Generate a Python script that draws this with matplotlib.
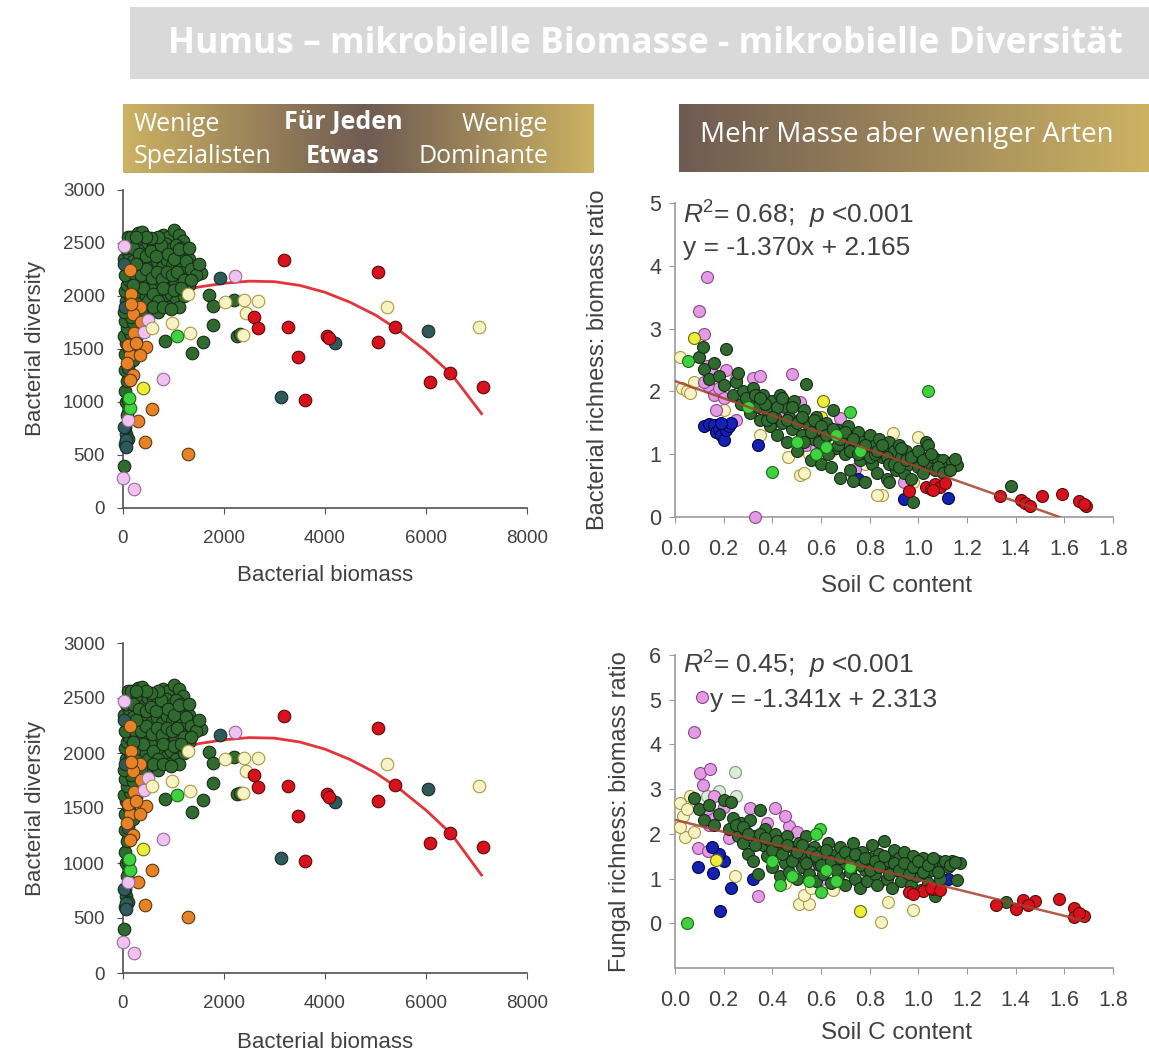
import numpy as np
import matplotlib.pyplot as plt
from matplotlib.patches import Rectangle
from matplotlib.colors import LinearSegmentedColormap

plt.rcParams['font.family'] = 'Liberation Sans'
plt.rcParams['mathtext.fontset'] = 'custom'
plt.rcParams['mathtext.rm'] = 'Liberation Sans'
plt.rcParams['mathtext.it'] = 'Liberation Sans:italic'

# ---------------- data: bacterial biomass vs bacterial diversity (both left panels) ----------------
left_dark_green = [
    (20, 400), (40, 600), (60, 700), (100, 650), (30, 760), (80, 880), (50, 1000), (100, 1020), (30, 1100),
    (70, 1200), (150, 1250), (40, 1300), (90, 1350), (200, 1400), (30, 1450), (110, 1500), (60, 1560),
    (20, 1620), (130, 1650), (80, 1700), (40, 1760), (200, 1750), (150, 1800), (20, 1850), (100, 1900),
    (60, 1950), (140, 2000), (30, 2050), (80, 2100), (120, 2150), (40, 2200), (160, 2250), (70, 2300),
    (20, 2350), (110, 2400), (60, 2450), (150, 2500), (90, 2560), (250, 1600), (300, 1950),
    (150, 2560), (300, 2590), (380, 2600), (650, 2520), (800, 2580), (900, 2560), (1000, 2620),
    (1100, 2580), (1180, 2520), (250, 2480), (400, 2430), (500, 2500), (600, 2470), (700, 2420),
    (850, 2490), (950, 2440), (1050, 2480), (1200, 2400), (1300, 2350), (200, 2330), (350, 2300),
    (480, 2350), (580, 2280), (680, 2330), (780, 2270), (880, 2340), (980, 2290), (1100, 2300),
    (1250, 2250), (1400, 2280), (1550, 2220), (250, 2180), (400, 2150), (520, 2200), (620, 2130),
    (720, 2190), (820, 2120), (920, 2180), (1020, 2140), (1150, 2170), (1300, 2100), (300, 2050),
    (450, 2000), (550, 2070), (650, 1980), (750, 2040), (850, 1960), (950, 2020), (1050, 1950),
    (1200, 2000), (500, 1880), (700, 1850), (1100, 1900),
    (200, 2450), (320, 2400), (450, 2380), (550, 2420), (650, 2380), (750, 2480), (900, 2400), (1000, 2350),
    (1150, 2450), (1250, 2330), (1350, 2250), (1450, 2200), (1500, 2300), (350, 2200), (450, 2250),
    (570, 2170), (670, 2230), (770, 2160), (870, 2230), (970, 2200), (1070, 2230), (1200, 2150), (1350, 2150),
    (1250, 2050), (400, 2080), (500, 1950), (600, 2020), (700, 1950), (800, 2080), (900, 1900), (1000, 2060),
    (1150, 2080), (350, 1850), (600, 1900), (800, 1900), (950, 1880), (200, 2100), (250, 2300), (700, 2560),
    (550, 2550), (450, 2560), (250, 2560), (1100, 2440), (1300, 2450),
    (1700, 2005), (1780, 1910), (2200, 1960), (1790, 1725), (1580, 1570), (1360, 1465), (840, 1580),
    (2260, 1625), (2320, 1640),
]
left_teal = [(1920, 2166), (3120, 1048), (4190, 1557), (6030, 1670), (50, 637), (90, 1320), (15, 760),
             (60, 580), (30, 1900), (10, 2300)]
left_orange = [(130, 2244), (160, 2020), (330, 1896), (200, 1834), (350, 1756), (220, 1648), (460, 1517),
               (130, 1445), (70, 1368), (200, 1259), (130, 1212), (290, 824), (570, 933), (440, 622),
               (1280, 513), (330, 1445), (90, 1539), (260, 1560), (150, 1920)]
left_pink = [(2210, 2192), (790, 1219), (0, 286), (210, 183), (90, 830), (490, 1772), (420, 1663), (10, 2471)]
left_pale = [(1280, 2020), (2010, 1943), (2400, 1958), (2680, 1952), (2430, 1840), (2370, 1632), (980, 1747),
             (1320, 1654), (5230, 1896), (7040, 1703), (580, 1700)]
left_bright_green = [(1070, 1620), (140, 939), (120, 1040)]
left_yellow = [(400, 1128)]
left_red = [(3180, 2340), (5050, 2229), (2600, 1803), (2680, 1694), (3260, 1703), (3460, 1424), (3600, 1020),
            (4030, 1626), (4070, 1600), (5040, 1567), (5390, 1710), (6080, 1184), (6470, 1275), (7130, 1141)]
left_curve_x = [1000, 1500, 2000, 2500, 3000, 3500, 4000, 4500, 5000, 5500, 6000, 6500, 7100]
left_curve_y = [2030, 2085, 2120, 2140, 2135, 2100, 2035, 1940, 1820, 1665, 1480, 1265, 890]

# ---------------- data: soil C vs bacterial richness:biomass ratio (top right) ----------------
bac_dark_green = [
    (0.10, 2.55), (0.115, 2.70), (0.12, 2.35), (0.14, 2.20), (0.16, 2.45), (0.18, 2.25), (0.20, 2.10),
    (0.21, 2.68), (0.24, 1.95), (0.25, 2.15), (0.27, 1.80), (0.28, 2.00), (0.30, 1.85), (0.31, 1.65),
    (0.32, 2.05), (0.34, 1.75), (0.35, 1.55), (0.36, 1.95), (0.38, 1.70), (0.39, 1.45), (0.40, 1.85),
    (0.41, 1.60), (0.42, 1.30), (0.43, 1.95), (0.44, 1.50), (0.45, 1.75), (0.46, 1.20), (0.47, 1.60),
    (0.48, 1.40), (0.49, 1.85), (0.50, 1.05), (0.51, 1.55), (0.52, 1.30), (0.53, 1.70), (0.54, 2.11),
    (0.55, 1.45), (0.56, 0.90), (0.57, 1.25), (0.58, 1.60), (0.59, 1.40), (0.60, 0.85), (0.61, 1.15),
    (0.62, 1.50), (0.63, 1.30), (0.64, 0.80), (0.65, 1.70), (0.66, 1.10), (0.67, 1.38), (0.68, 0.62),
    (0.69, 1.20), (0.70, 1.00), (0.71, 1.45), (0.72, 0.75), (0.73, 0.58), (0.74, 1.10), (0.75, 1.35),
    (0.76, 0.90), (0.77, 1.20), (0.78, 0.55), (0.79, 1.00), (0.80, 1.30), (0.81, 0.85), (0.82, 1.15),
    (0.83, 0.70), (0.84, 1.25), (0.85, 0.95), (0.86, 1.10), (0.87, 0.60), (0.88, 1.20), (0.89, 0.90),
    (0.90, 1.05), (0.91, 0.75), (0.92, 1.15), (0.93, 0.95), (0.94, 0.70), (0.95, 1.05), (0.96, 0.85),
    (0.97, 0.60), (0.98, 0.24), (0.99, 1.00), (1.00, 0.80), (1.01, 0.95), (1.02, 0.70), (1.03, 1.20),
    (1.04, 1.15), (1.05, 0.85), (1.06, 0.95), (1.07, 0.75), (1.08, 0.90), (1.10, 0.91), (1.12, 0.80),
    (1.14, 0.88), (1.16, 0.83), (1.38, 0.50), (0.88, 0.55),
    (0.26, 2.30), (0.29, 1.90), (0.33, 1.95), (0.37, 1.80), (0.38, 1.55), (0.42, 1.75), (0.44, 1.90),
    (0.46, 1.55), (0.48, 1.75), (0.50, 1.50), (0.52, 1.60), (0.53, 1.20), (0.56, 1.35), (0.57, 1.55),
    (0.59, 1.20), (0.60, 1.45), (0.62, 1.30), (0.63, 1.00), (0.65, 1.40), (0.67, 1.15), (0.68, 1.25),
    (0.70, 1.35), (0.72, 1.05), (0.73, 1.25), (0.75, 1.00), (0.77, 1.05), (0.78, 1.15), (0.80, 0.95),
    (0.82, 1.00), (0.83, 1.05), (0.85, 1.15), (0.87, 0.95), (0.88, 0.85), (0.90, 0.85), (0.92, 0.80),
    (0.93, 1.10), (0.95, 0.90), (0.97, 0.95), (1.00, 1.05), (1.02, 0.90), (1.05, 1.00), (1.08, 0.80),
    (1.10, 0.70), (1.13, 0.75), (1.15, 0.92), (0.35, 1.90), (0.40, 1.60),
]
bac_pink = [(0.13, 3.82), (0.10, 3.28), (0.12, 2.91), (0.13, 2.40), (0.15, 2.30), (0.14, 2.07), (0.16, 1.95),
            (0.12, 2.15), (0.18, 2.05), (0.21, 2.34), (0.17, 1.70), (0.20, 1.90), (0.25, 2.20), (0.32, 2.21),
            (0.35, 2.25), (0.48, 2.28), (0.40, 1.85), (0.43, 1.60), (0.515, 1.83), (0.55, 1.35), (0.54, 1.15),
            (0.58, 1.10), (0.60, 1.25), (0.68, 1.58), (0.74, 0.76), (0.94, 0.55), (0.33, 0.0), (0.25, 1.55),
            (0.70, 1.20)]
bac_blue = [(0.12, 1.45), (0.14, 1.48), (0.16, 1.46), (0.17, 1.35), (0.18, 1.40), (0.19, 1.30), (0.20, 1.22),
            (0.21, 1.38), (0.22, 1.45), (0.23, 1.50), (0.19, 1.50), (0.34, 1.15), (0.94, 0.28), (1.12, 0.31),
            (0.75, 0.60)]
bac_light_green = [(0.055, 2.49), (1.04, 2.0), (0.72, 1.67), (0.40, 0.72), (0.62, 1.12), (0.58, 1.00),
                   (0.66, 1.30), (0.50, 1.20), (0.30, 1.75), (0.76, 1.05)]
bac_pale = [(0.02, 2.54), (0.03, 2.05), (0.05, 2.00), (0.06, 1.97), (0.08, 2.15), (0.895, 1.34), (1.0, 1.28),
            (0.515, 0.67), (0.53, 0.70), (0.85, 0.35), (0.83, 0.35), (0.465, 0.96), (0.78, 0.85), (0.55, 1.00),
            (0.35, 1.30), (0.98, 0.55), (0.64, 1.05), (0.20, 1.70)]
bac_yellow = [(0.077, 2.85), (0.61, 1.84), (0.60, 1.59)]
bac_red = [(1.03, 0.48), (1.05, 0.45), (1.07, 0.52), (1.09, 0.47), (1.11, 0.54), (1.06, 0.43), (0.96, 0.42),
           (1.336, 0.33), (1.42, 0.27), (1.44, 0.22), (1.46, 0.18), (1.51, 0.33), (1.59, 0.36), (1.66, 0.26),
           (1.69, 0.17), (1.68, 0.21)]
bac_fit_x = [0.0, 1.58]
bac_fit_y = [2.165, 0.0]

# ---------------- data: soil C vs fungal richness:biomass ratio (bottom right) ----------------
fun_dark_green = [
    (0.08, 2.80), (0.10, 2.55), (0.12, 2.30), (0.14, 2.65), (0.16, 2.20), (0.18, 2.45), (0.20, 2.75),
    (0.22, 2.10), (0.23, 2.72), (0.24, 2.35), (0.26, 1.95), (0.27, 2.25), (0.28, 1.80), (0.29, 2.05),
    (0.30, 1.55), (0.31, 2.30), (0.32, 1.40), (0.33, 1.95), (0.34, 1.10), (0.35, 2.54), (0.36, 1.75),
    (0.37, 2.10), (0.38, 1.50), (0.39, 1.85), (0.40, 1.25), (0.41, 2.00), (0.42, 1.60), (0.43, 1.05),
    (0.44, 1.85), (0.45, 1.35), (0.46, 1.95), (0.47, 1.15), (0.48, 1.70), (0.49, 1.45), (0.50, 1.00),
    (0.51, 1.80), (0.52, 1.25), (0.53, 1.55), (0.54, 1.95), (0.55, 1.10), (0.56, 1.45), (0.57, 1.70),
    (0.58, 0.95), (0.59, 1.30), (0.60, 1.60), (0.61, 1.10), (0.62, 1.45), (0.63, 1.80), (0.64, 0.90),
    (0.65, 1.25), (0.66, 1.55), (0.67, 1.05), (0.68, 1.70), (0.69, 1.35), (0.70, 0.85), (0.71, 1.50),
    (0.72, 1.15), (0.73, 1.80), (0.74, 1.00), (0.75, 1.40), (0.76, 0.80), (0.77, 1.60), (0.78, 1.20),
    (0.79, 0.95), (0.80, 1.45), (0.81, 1.75), (0.82, 1.10), (0.83, 0.85), (0.84, 1.55), (0.85, 1.30),
    (0.86, 1.85), (0.87, 1.00), (0.88, 1.40), (0.89, 0.80), (0.90, 1.65), (0.91, 1.20), (0.92, 1.45),
    (0.93, 0.95), (0.94, 1.60), (0.95, 1.15), (0.96, 1.35), (0.97, 0.85), (0.98, 1.50), (0.99, 1.05),
    (1.00, 1.25), (1.01, 0.75), (1.02, 1.45), (1.03, 1.10), (1.04, 0.90), (1.05, 1.35), (1.06, 1.20),
    (1.07, 0.60), (1.08, 1.40), (1.09, 1.00), (1.10, 1.30), (1.12, 1.25), (1.14, 1.40), (1.16, 0.96),
    (1.17, 1.35), (1.36, 0.47),
    (0.25, 2.20), (0.28, 2.15), (0.30, 2.00), (0.33, 1.75), (0.35, 2.00), (0.37, 1.90), (0.40, 1.65),
    (0.42, 1.85), (0.44, 1.55), (0.46, 1.75), (0.48, 1.40), (0.50, 1.60), (0.52, 1.75), (0.54, 1.35),
    (0.56, 1.60), (0.58, 1.50), (0.60, 1.30), (0.62, 1.65), (0.64, 1.40), (0.66, 1.20), (0.68, 1.45),
    (0.70, 1.60), (0.72, 1.40), (0.74, 1.55), (0.76, 1.30), (0.78, 1.45), (0.80, 1.20), (0.82, 1.40),
    (0.84, 1.25), (0.86, 1.50), (0.88, 1.10), (0.90, 1.35), (0.92, 1.20), (0.94, 1.35), (0.96, 1.10),
    (0.98, 1.25), (1.00, 1.40), (1.02, 1.15), (1.04, 1.30), (1.06, 1.45), (1.08, 1.15), (1.11, 1.40),
    (1.13, 1.30), (1.15, 1.38),
]
fun_pink = [(0.103, 3.36), (0.144, 3.44), (0.116, 3.10), (0.16, 2.85), (0.157, 2.40), (0.13, 2.55), (0.20, 2.60),
            (0.31, 2.58), (0.41, 2.58), (0.47, 2.18), (0.096, 1.69), (0.137, 1.62), (0.34, 0.62), (0.815, 1.10),
            (0.84, 0.92), (0.50, 2.05), (0.38, 2.25), (0.22, 1.90), (0.27, 2.00), (0.55, 1.25), (0.60, 1.00),
            (0.45, 2.40), (0.14, 2.20), (0.08, 4.27), (0.11, 5.07)]
fun_blue = [(0.096, 1.25), (0.155, 1.12), (0.229, 0.78), (0.185, 0.27), (0.20, 1.40), (0.32, 1.00), (0.18, 1.55),
            (0.15, 1.70), (1.12, 0.99)]
fun_yellow = [(0.17, 1.41), (0.76, 0.27)]
fun_pale = [(0.02, 2.70), (0.034, 2.40), (0.04, 1.92), (0.02, 2.15), (0.05, 2.55), (0.06, 2.85), (0.246, 1.06),
            (0.51, 0.44), (0.55, 0.44), (0.53, 0.64), (0.845, 0.03), (0.875, 0.47), (0.98, 0.29), (0.56, 0.80),
            (0.45, 0.90), (0.65, 0.75), (0.08, 2.05)]
fun_pale_green = [(0.247, 3.38), (0.25, 2.84), (0.18, 2.95), (0.13, 2.85)]
fun_light_green = [(0.048, 0.0), (0.596, 2.10), (0.43, 0.85), (0.60, 0.70), (0.62, 1.20), (0.48, 1.05),
                   (0.55, 0.95), (0.66, 0.95), (0.40, 1.40), (0.72, 1.25), (0.58, 2.00)]
fun_red = [(1.32, 0.40), (1.40, 0.33), (1.43, 0.51), (1.48, 0.49), (1.58, 0.55), (1.64, 0.35), (1.64, 0.14),
           (1.68, 0.16), (1.66, 0.22), (1.45, 0.40), (1.06, 0.77), (0.96, 0.70), (1.02, 0.72), (1.05, 0.80),
           (1.09, 0.75), (0.98, 0.66)]
fun_fit_x = [0.0, 1.68]
fun_fit_y = [2.313, 0.06]

# marker styles: (face, edge)
DG = ('#2f6b2f', '#1a2a1a')
TEAL = ('#2f5a5a', '#1a2a2a')
ORANGE = ('#e88226', '#5a3a10')
PINK_L = ('#efc2ef', '#9a6a9a')
PINK = ('#e49ae4', '#8a4a8a')
PALE = ('#f8f3c6', '#a89a40')
BGREEN = ('#3fd23f', '#1a6a1a')
YELLOW = ('#eeee3a', '#6a6a10')
RED = ('#d8121c', '#5a0a0a')
BLUE = ('#1422b4', '#00004a')
PGREEN = ('#d8ecd8', '#809a80')

W, H = 1149, 1058
fig = plt.figure(figsize=(W / 100, H / 100), dpi=100)


def pts(ax, data, style, s=82):
    xs = [p[0] for p in data]
    ys = [p[1] for p in data]
    ax.scatter(xs, ys, s=s, c=style[0], edgecolors=style[1], linewidths=0.8, zorder=3, clip_on=False)


def frame(ax, color, lw):
    for side in ['top', 'right']:
        ax.spines[side].set_visible(False)
    for side in ['left', 'bottom']:
        ax.spines[side].set_color(color)
        ax.spines[side].set_linewidth(lw)


# header
fig.patches.append(Rectangle((130 / W, 1 - 79 / H), 1019 / W, 72 / H, transform=fig.transFigure,
                             facecolor='#d9d9d9', edgecolor='none'))
fig.text(645 / W, 1 - 44 / H, 'Humus – mikrobielle Biomasse - mikrobielle Diversität', family='Open Sans',
         weight='bold', fontsize=25.5, color='white', ha='center', va='center')

gold = '#ccb263'
brown = '#6f5b52'
grad = np.linspace(0, 1, 256).reshape(1, -1)

axb = fig.add_axes([123 / W, 1 - 173 / H, 470 / W, 69 / H])
axb.imshow(grad, cmap=LinearSegmentedColormap.from_list('lb', [(0, gold), (0.52, brown), (1, gold)]),
           aspect='auto', extent=[0, 1, 0, 1])
axb.axis('off')
bk = dict(family='Open Sans', fontsize=18, color='white', va='center')
axb.text(0.023, 0.71, 'Wenige', ha='left', **bk)
axb.text(0.023, 0.24, 'Spezialisten', ha='left', **bk)
axb.text(0.468, 0.73, 'Für Jeden', ha='center', weight='bold', **bk)
axb.text(0.468, 0.24, 'Etwas', ha='center', weight='bold', **bk)
axb.text(0.904, 0.71, 'Wenige', ha='right', **bk)
axb.text(0.904, 0.24, 'Dominante', ha='right', **bk)

axr = fig.add_axes([679 / W, 1 - 172 / H, 470 / W, 68 / H])
axr.imshow(grad, cmap=LinearSegmentedColormap.from_list('rb', [brown, gold]), aspect='auto', extent=[0, 1, 0, 1])
axr.axis('off')
axr.text(0.045, 0.54, 'Mehr Masse aber weniger Arten', family='Open Sans', fontsize=20, color='white',
         ha='left', va='center')

# left panels (same figure shown twice)
for bottom_px, top_px, xlab_y in [(508, 190, -0.18), (973, 643, -0.18)]:
    ax = fig.add_axes([123 / W, 1 - bottom_px / H, 404 / W, (bottom_px - top_px) / H])
    ax.plot(left_curve_x, left_curve_y, color='#e5333a', lw=2, zorder=2)
    pts(ax, left_dark_green, DG)
    pts(ax, left_teal, TEAL)
    pts(ax, left_orange, ORANGE)
    pts(ax, left_pink, PINK_L)
    pts(ax, left_pale, PALE)
    pts(ax, left_bright_green, BGREEN)
    pts(ax, left_yellow, YELLOW)
    pts(ax, left_red, RED)
    ax.set_xlim(0, 8000)
    ax.set_ylim(0, 3000)
    ax.set_xticks([0, 2000, 4000, 6000, 8000])
    ax.set_yticks(range(0, 3001, 500))
    frame(ax, '#505050', 1.2)
    ax.tick_params(labelsize=13.5, colors='#505050', labelcolor='#404040', length=4)
    ax.tick_params(axis='x', pad=12)
    ax.tick_params(axis='y', pad=9)
    ax.set_xlabel('Bacterial biomass', fontsize=16, color='#404040')
    ax.set_ylabel('Bacterial diversity', fontsize=16, color='#404040')
    ax.xaxis.set_label_coords(0.5, xlab_y)
    ax.yaxis.set_label_coords(-0.19, 0.5)
    ax.set_facecolor('none')

# top right
ax = fig.add_axes([675 / W, 1 - 517 / H, 438 / W, 314 / H])
pts(ax, bac_pale, PALE, 74)
pts(ax, bac_pink, PINK, 74)
pts(ax, bac_blue, BLUE, 74)
pts(ax, bac_yellow, YELLOW, 74)
pts(ax, bac_dark_green, DG, 74)
pts(ax, bac_light_green, BGREEN, 74)
pts(ax, bac_red, RED, 74)
ax.plot(bac_fit_x, bac_fit_y, color='#a5402c', lw=1.8, alpha=0.85, zorder=4)
ax.set_xlim(0, 1.8)
ax.set_ylim(0, 5)
ax.set_xticks(np.arange(0, 1.81, 0.2))
ax.set_xticklabels(['0.0', '0.2', '0.4', '0.6', '0.8', '1.0', '1.2', '1.4', '1.6', '1.8'])
ax.set_yticks(range(0, 6))
frame(ax, '#999999', 1.2)
ax.tick_params(labelsize=15.5, colors='#999999', labelcolor='#404040', length=4, pad=6)
ax.tick_params(axis='x', pad=12)
ax.set_xlabel('Soil C content', fontsize=17.5, color='#404040')
ax.set_ylabel('Bacterial richness: biomass ratio', fontsize=17, color='#404040')
ax.xaxis.set_label_coords(0.505, -0.185)
ax.yaxis.set_label_coords(-0.15, 0.5)
ax.text(0.018, 0.962, r'$R$$^2$= 0.68;  $p$ <0.001', transform=ax.transAxes, fontsize=19, color='#404040',
        ha='left', va='center', zorder=5)
ax.text(0.018, 0.857, 'y = -1.370x + 2.165', transform=ax.transAxes, fontsize=19, color='#404040',
        ha='left', va='center', zorder=5)

# bottom right
ax = fig.add_axes([675 / W, 1 - 968 / H, 438 / W, 313 / H])
pts(ax, fun_pale, PALE, 74)
pts(ax, fun_pale_green, PGREEN, 74)
pts(ax, fun_pink, PINK, 74)
pts(ax, fun_blue, BLUE, 74)
pts(ax, fun_yellow, YELLOW, 74)
pts(ax, fun_dark_green, DG, 74)
pts(ax, fun_light_green, BGREEN, 74)
pts(ax, fun_red, RED, 74)
ax.plot(fun_fit_x, fun_fit_y, color='#a5402c', lw=1.8, alpha=0.85, zorder=4)
ax.set_xlim(0, 1.8)
ax.set_ylim(-1, 6)
ax.set_xticks(np.arange(0, 1.81, 0.2))
ax.set_xticklabels(['0.0', '0.2', '0.4', '0.6', '0.8', '1.0', '1.2', '1.4', '1.6', '1.8'])
ax.set_yticks(range(0, 7))
frame(ax, '#999999', 1.2)
ax.tick_params(labelsize=15.5, colors='#999999', labelcolor='#404040', length=4, pad=6)
ax.tick_params(axis='x', pad=12)
ax.set_xlabel('Soil C content', fontsize=17.5, color='#404040')
ax.set_ylabel('Fungal richness: biomass ratio', fontsize=17, color='#404040')
ax.xaxis.set_label_coords(0.505, -0.172)
ax.yaxis.set_label_coords(-0.1, 0.5)
ax.text(0.018, 0.968, r'$R$$^2$= 0.45;  $p$ <0.001', transform=ax.transAxes, fontsize=19, color='#404040',
        ha='left', va='center', zorder=5)
ax.text(0.08, 0.856, 'y = -1.341x + 2.313', transform=ax.transAxes, fontsize=19, color='#404040',
        ha='left', va='center', zorder=5)

fig.savefig('out.png', dpi=100)
